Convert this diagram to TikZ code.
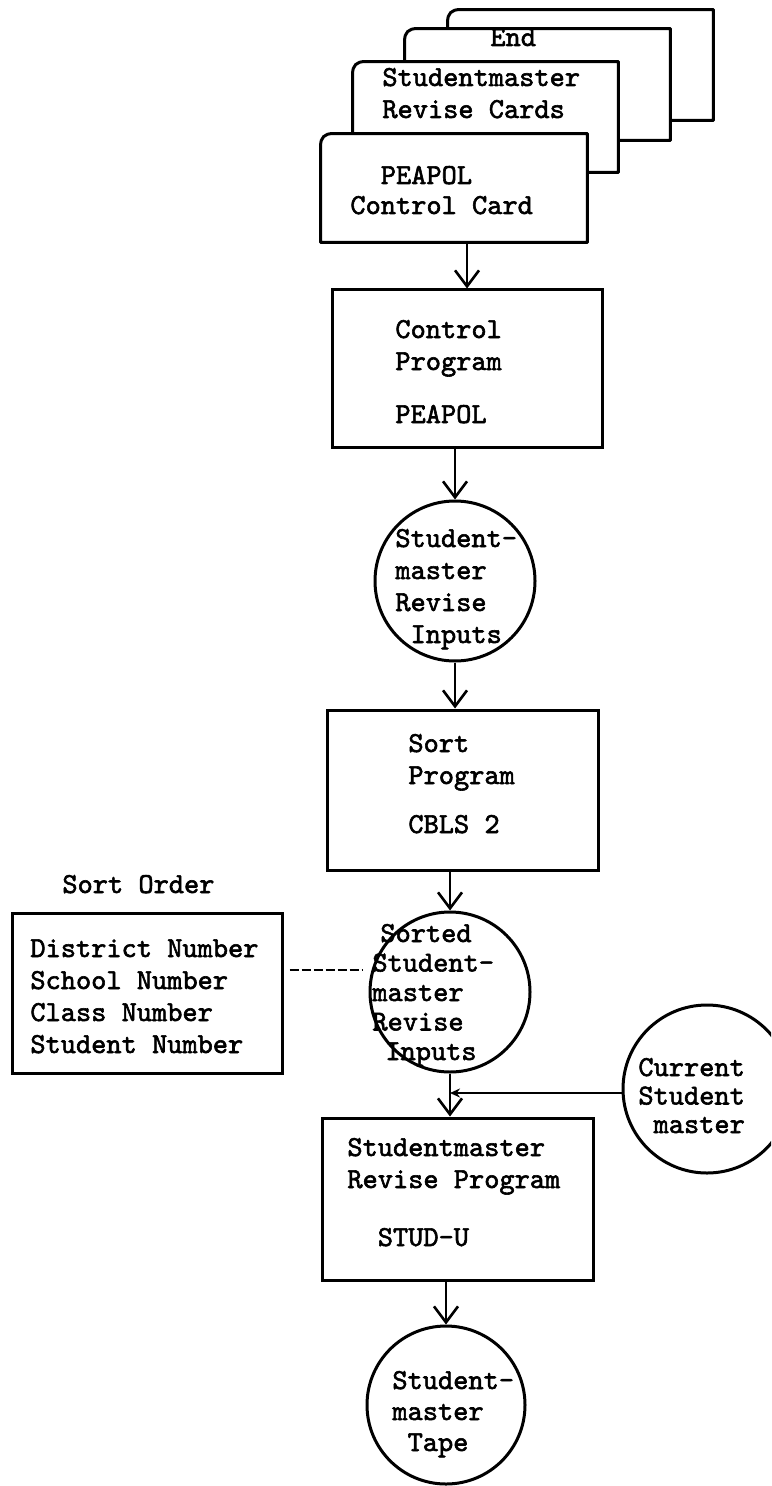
\documentclass[tikz,border=0pt]{standalone}
\usepackage{fontspec}
\newfontfamily\tw{lmmono10-regular.otf}[FakeBold=2]
\usetikzlibrary{arrows.meta,fit}

% outline of a punched card with a clipped upper-left corner
\newcommand\cardoutline[1]{%
  \filldraw[cardline] (#1.south west) -- ([yshift=-6pt]#1.north west)
    .. controls ([yshift=-2pt]#1.north west) and ([xshift=2pt]#1.north west) ..
    ([xshift=6pt]#1.north west) -- (#1.north east) -- (#1.south east) -- cycle;}

\begin{document}
\begin{tikzpicture}[x=0.5pt,y=-0.5pt,
  cardline/.style={draw=black, fill=white, line width=1.5pt, line join=round},
  area/.style={inner sep=0pt, draw=none},
  prog/.style={draw, rectangle, line width=1.5pt, inner sep=0pt},
  store/.style={draw, circle, line width=1.5pt, inner sep=0pt},
  % text blocks are placed by the baseline of their last line
  txt/.style={inner sep=0pt, anchor=base west, align=left,
    font=\tw\fontsize{14.48pt}{#1}\selectfont},
  txt/.default=16pt,
  flow/.style={line width=1.3pt,
    -{Straight Barb[length=8pt,width=12pt,line width=1.3pt]}},
  feed/.style={line width=1.3pt, -{Stealth[length=5pt,width=4.5pt]}},
  link/.style={line width=1.4pt, dash pattern=on 4.5pt off 1.5pt}]

\clip (0,0) rectangle (771,1486);
\fill[white] (0,0) rectangle (771,1486);

% card deck
\node[area, fit={(448,10) (713,120)}] (card4) {};
\node[area, fit={(405,29) (670,140)}] (card3) {};
\node[area, fit={(353,62) (618,172)}] (card2) {};
\node[area, fit={(321,134) (587,242)}] (card1) {};
\cardoutline{card4}
\cardoutline{card3}
\node[txt] (t3) at (490,46) {End};
\cardoutline{card2}
\node[txt] (t2) at (382,118) {Studentmaster\\Revise Cards};
\cardoutline{card1}
\node[txt=15pt] (t1) at (350,214) {\hphantom{Co}PEAPOL\\Control Card};

% programs
\node[prog, minimum width=135pt, minimum height=78.5pt] (ctrl) at (467,368.5) {};
\node[txt] (tctrl) at (395,423) {Control\\Program\\[10.5pt]PEAPOL};

\node[prog, minimum width=135.5pt, minimum height=80pt] (sort) at (462.5,790) {};
\node[txt] (tsort) at (408,833) {Sort\\Program\\[8.5pt]CBLS 2};

\node[prog, minimum width=135.5pt, minimum height=81pt] (srp) at (457.5,1199) {};
\node[txt] (tsrp) at (347,1246) {Studentmaster\\Revise Program\\[13pt]\hphantom{St}STUD-U};

% files
\node[store, minimum size=80pt] (c1) at (455,581) {};
\node[txt] (tc1) at (395,643) {Student-\\master\\Revise\\\hphantom{R}Inputs};

\node[store, minimum size=80pt] (c2) at (450,992) {};
\node[txt=14.75pt] (tc2) at (372,1060) {\hspace*{4pt}Sorted\\Student-\\master\\Revise\\\hspace*{6.5pt}Inputs};

\node[store, minimum size=84pt] (cur) at (707,1089) {};
\node[txt=14.25pt] (tcur) at (638,1133) {Current\\Student\\\hphantom{S}master};

\node[store, minimum size=79pt] (tape) at (446,1405) {};
\node[txt=15.5pt] (ttape) at (392,1451) {Student-\\master\\\hphantom{S}Tape};

% sort order note
\node[txt] (tord) at (62,893) {Sort Order};
\node[prog, minimum width=135pt, minimum height=80pt] (order) at (147,993) {};
\node[txt] (tordl) at (30,1053) {District Number\\School Number\\Class Number\\Student Number};

% connectors
\draw[flow] (card1.south -| ctrl.north) -- (ctrl.north);
\draw[flow] (ctrl.south -| c1.north) -- (c1.north);
\draw[flow] (c1.south) -- (c1.south |- sort.north);
\draw[flow] (sort.south -| c2.north) -- (c2.north);
\draw[flow] (c2.south) -- (c2.south |- srp.north);
\draw[feed] ([yshift=-2pt]cur.west) -- ([yshift=-2pt]cur.west -| c2.south);
\draw[flow] (srp.south -| tape.north) -- (tape.north);
\draw[link, shorten >=3pt, shorten <=3pt]
  ([yshift=11.5pt]order.east) -- ([yshift=11.5pt]order.east -| c2.west);
\end{tikzpicture}
\end{document}
